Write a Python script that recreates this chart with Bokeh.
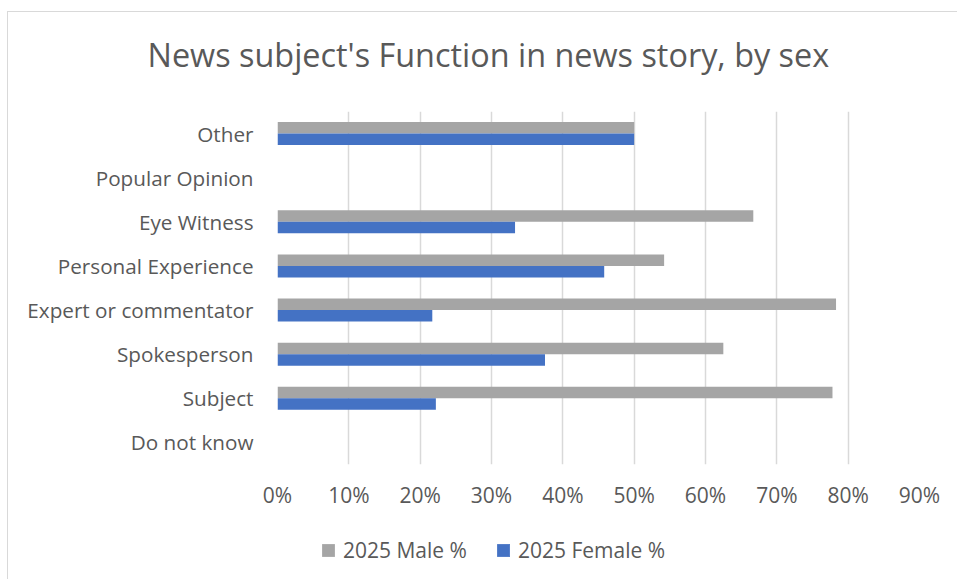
from bokeh.plotting import figure
from bokeh.layouts import column
from bokeh.models import (FactorRange, FixedTicker, NumeralTickFormatter, Legend,
                          LegendItem, ColumnDataSource, Title)
from bokeh.transform import dodge
from bokeh.embed import file_html
from bokeh.resources import INLINE

# ---- data (bottom to top) ----
categories = ["Do not know", "Subject", "Spokesperson", "Expert or commentator",
              "Personal Experience", "Eye Witness", "Popular Opinion", "Other"]
male_pct = [0.0, 0.778, 0.625, 0.783, 0.542, 0.667, 0.0, 0.50]
female_pct = [0.0, 0.222, 0.375, 0.217, 0.458, 0.333, 0.0, 0.50]
x_ticks = [0.0, 0.1, 0.2, 0.3, 0.4, 0.5, 0.6, 0.7, 0.8, 0.9]
title_text = "News subject's Function in news story, by sex"
series_names = ["2025 Male %", "2025 Female %"]

FONT = "Open Sans"
TXT = "#595959"
GRID = "#D9D9D9"
MALE_C = "#A5A5A5"
FEMALE_C = "#4472C4"

src = ColumnDataSource(dict(cat=categories, male=male_pct, female=female_pct))

# ---- main chart ----
p = figure(width=949, height=520, y_range=FactorRange(*categories),
           x_range=(0, 0.9), output_backend="svg", toolbar_location=None,
           min_border_left=269, min_border_right=38, min_border_top=99,
           min_border_bottom=68)
p.outline_line_color = None
p.background_fill_color = "white"
p.border_fill_color = "white"

# spacer between frame and title, then the title itself
p.add_layout(Title(text=" ", text_font_size="1px", standoff=33), "above")
p.add_layout(Title(text=title_text, text_font=FONT, text_font_size="32.4px",
                   text_font_style="normal", text_color=TXT, align="left",
                   offset=-130, standoff=0), "above")

p.hbar(y=dodge("cat", 0.13, range=p.y_range), right="male", left=0,
       height=0.26, source=src, fill_color=MALE_C, line_color=None)
p.hbar(y=dodge("cat", -0.13, range=p.y_range), right="female", left=0,
       height=0.26, source=src, fill_color=FEMALE_C, line_color=None)

p.xaxis.ticker = FixedTicker(ticks=x_ticks)
p.xaxis.formatter = NumeralTickFormatter(format="0%")
for ax in (p.xaxis[0], p.yaxis[0]):
    ax.axis_line_color = None
    ax.major_tick_line_color = None
    ax.minor_tick_line_color = None
    ax.major_tick_out = 0
    ax.major_tick_in = 0
    ax.major_label_text_font = FONT
    ax.major_label_text_color = TXT
p.xaxis.major_label_text_font_size = "21px"
p.yaxis.major_label_text_font_size = "20.7px"
p.xaxis.major_label_standoff = 16
p.yaxis.major_label_standoff = 24

p.xgrid.grid_line_color = GRID
p.xgrid.grid_line_width = 1.5
p.ygrid.grid_line_color = None

# ---- legend strip ----
q = figure(width=949, height=47, x_range=(0, 1), y_range=(0, 1),
           output_backend="svg", toolbar_location=None,
           x_axis_type=None, y_axis_type=None,
           min_border_left=0, min_border_right=0, min_border_top=0,
           min_border_bottom=0)
q.outline_line_color = None
q.xgrid.grid_line_color = None
q.ygrid.grid_line_color = None
# legend-only renderers: their single box lies outside the visible range
key_src = ColumnDataSource(dict(l=[5], r=[6], b=[5], t=[6]))
lm = q.quad(left="l", right="r", bottom="b", top="t", source=key_src,
            fill_color=MALE_C, line_color=None)
lf = q.quad(left="l", right="r", bottom="b", top="t", source=key_src,
            fill_color=FEMALE_C, line_color=None)
legend = Legend(items=[LegendItem(label=series_names[0], renderers=[lm]),
                       LegendItem(label=series_names[1], renderers=[lf])],
                location=(43, 15), orientation="horizontal",
                glyph_width=16, glyph_height=16, label_standoff=7, spacing=28,
                padding=0, margin=0, border_line_color=None,
                background_fill_alpha=0,
                label_text_font=FONT, label_text_font_size="21px",
                label_text_color=TXT)
q.add_layout(legend)

layout = column(p, q, spacing=0)
layout.margin = (11, 0, 0, 7)
layout.styles = {"border-top": "1px solid #D9D9D9", "border-left": "1px solid #D9D9D9"}

open("out.html", "w").write(file_html(layout, INLINE))
